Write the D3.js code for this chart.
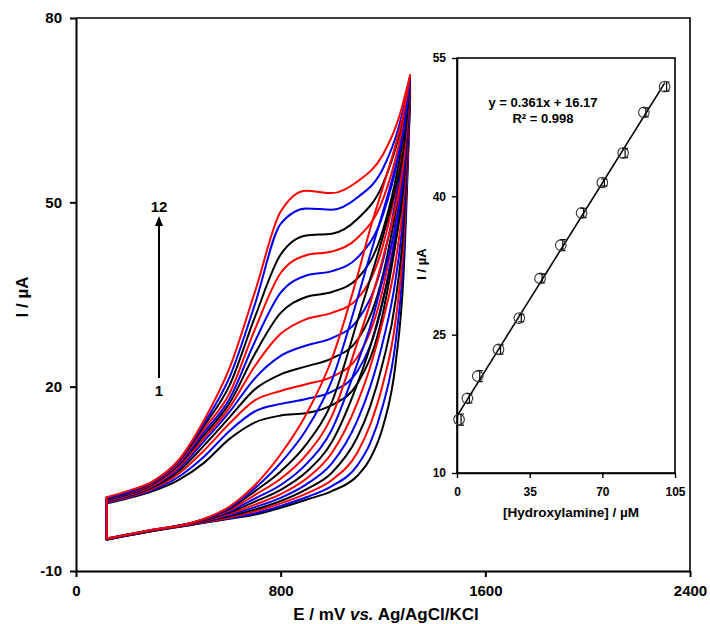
<!DOCTYPE html>
<html>
<head>
<meta charset="utf-8">
<script src="https://cdn.jsdelivr.net/npm/d3@7"></script>
<style>
  html, body { margin: 0; padding: 0; background: #fff; }
  svg { display: block; font-family: Arial, "Liberation Sans", sans-serif; font-weight: bold; }
</style>
</head>
<body>
<svg id="chart" width="710" height="624"></svg>
<script>
// ---- Cyclic voltammograms: potential grids (mV) ----
const potentialForward = [120, 200, 300, 400, 500, 600, 700, 800, 900, 1000, 1100, 1200, 1260, 1306];
const potentialReverse = [120, 300, 450, 600, 700, 800, 900, 1000, 1100, 1150, 1200, 1250, 1280, 1306];

// Anodic (forward) sweep currents, µA, curves 1..12
const forwardCurrents = [
  [1.0, 1.8, 3.0, 4.8, 7.6, 11.5, 14.2, 15.3, 15.7, 17.0, 20.5, 32.0, 47.0, 67.0],
  [1.1, 1.9, 3.2, 5.3, 8.6, 12.8, 16.0, 17.2, 18.0, 19.2, 22.5, 34.0, 48.5, 67.3],
  [1.2, 2.0, 3.4, 5.8, 9.6, 14.0, 17.8, 19.3, 20.4, 21.6, 24.8, 36.0, 50.0, 67.6],
  [1.3, 2.1, 3.6, 6.2, 10.4, 15.0, 19.6, 22.0, 23.3, 24.6, 27.6, 38.2, 51.5, 67.9],
  [1.4, 2.2, 3.8, 6.6, 11.1, 15.9, 21.4, 25.0, 26.7, 27.9, 30.8, 40.5, 53.0, 68.2],
  [1.5, 2.3, 3.9, 6.9, 11.6, 16.6, 23.4, 28.6, 31.0, 32.0, 34.3, 43.0, 54.5, 68.5],
  [1.6, 2.4, 4.1, 7.2, 12.1, 17.3, 25.4, 32.0, 34.6, 35.4, 37.6, 45.5, 56.0, 68.8],
  [1.7, 2.5, 4.2, 7.4, 12.6, 18.0, 27.4, 35.3, 38.1, 38.8, 41.0, 48.0, 57.5, 69.1],
  [1.8, 2.6, 4.3, 7.6, 13.1, 18.9, 29.4, 38.5, 41.4, 42.0, 44.2, 50.5, 59.0, 69.4],
  [1.85, 2.7, 4.4, 7.8, 13.6, 20.2, 31.4, 41.5, 44.6, 44.9, 47.3, 53.0, 60.5, 69.8],
  [1.9, 2.8, 4.5, 7.9, 14.0, 21.5, 33.5, 46.5, 49.0, 48.8, 50.8, 55.5, 62.0, 70.2],
  [2.0, 3.0, 4.6, 8.0, 14.5, 23.0, 35.5, 48.5, 51.9, 51.5, 53.4, 57.8, 63.5, 70.7]
];

// Cathodic (reverse) sweep currents, µA, curves 1..12 (listed by ascending potential)
const reverseCurrents = [
  [-4.9, -3.5, -2.5, -1.5, -0.8, 0.3, 1.6, 3.0, 5.5, 8.3, 13.5, 24.0, 38.0, 67.0],
  [-4.9, -3.5, -2.45, -1.4, -0.6, 0.6, 2.0, 3.8, 7.2, 10.8, 17.0, 27.5, 41.0, 67.3],
  [-4.85, -3.45, -2.4, -1.3, -0.3, 1.0, 2.6, 4.8, 9.3, 13.8, 20.5, 31.0, 43.5, 67.6],
  [-4.85, -3.45, -2.35, -1.1, 0.0, 1.4, 3.3, 6.0, 11.8, 16.8, 24.0, 34.3, 46.0, 67.9],
  [-4.8, -3.4, -2.3, -0.9, 0.4, 1.9, 4.1, 7.5, 14.5, 20.0, 27.4, 37.7, 48.5, 68.2],
  [-4.8, -3.4, -2.3, -0.7, 0.8, 2.5, 5.0, 9.2, 17.4, 23.2, 30.8, 40.6, 50.5, 68.5],
  [-4.8, -3.4, -2.25, -0.5, 1.3, 3.2, 6.1, 11.0, 20.5, 26.5, 34.2, 43.6, 52.5, 68.8],
  [-4.75, -3.35, -2.2, -0.3, 1.8, 4.0, 7.4, 13.0, 23.8, 29.8, 37.6, 46.5, 54.5, 69.1],
  [-4.75, -3.35, -2.2, -0.1, 2.4, 5.0, 8.9, 15.2, 27.2, 33.6, 41.0, 49.5, 56.5, 69.4],
  [-4.7, -3.3, -2.2, 0.1, 3.0, 6.2, 10.6, 17.5, 30.7, 37.5, 44.5, 52.5, 58.5, 69.8],
  [-4.7, -3.3, -2.2, 0.3, 3.5, 7.6, 13.0, 21.0, 34.3, 41.5, 48.5, 56.0, 61.5, 70.2],
  [-4.7, -3.3, -2.2, 0.5, 4.0, 9.0, 15.5, 24.5, 38.0, 45.7, 52.5, 59.5, 64.5, 70.7]
];

const curveColors = ["#000000", "#0000ee", "#ff0000"];   // repeats black, blue, red for curves 1..12

const xTickValues = [0, 800, 1600, 2400];
const yTickValues = [-10, 20, 50, 80];

// ---- Calibration inset ----
const concentrations = [1, 5, 10, 20, 30, 40, 50, 60, 70, 80, 90, 100];   // µM
const peakCurrents   = [15.8, 18.1, 20.5, 23.4, 26.8, 31.1, 34.7, 38.2, 41.5, 44.7, 49.1, 51.9]; // µA
const peakErrors     = [0.6, 0.5, 0.6, 0.5, 0.4, 0.5, 0.6, 0.5, 0.4, 0.5, 0.5, 0.5];
const fitSlope = 0.361, fitIntercept = 16.17, fitR2 = 0.998;
const insetXTicks = [0, 35, 70, 105];
const insetYTicks = [10, 25, 40, 55];

const svg = d3.select("#chart");
const plainFormat = d => String(d);

// ---------- main panel ----------
const x = d3.scaleLinear().domain([0, 2400]).range([76, 690]);
const y = d3.scaleLinear().domain([-10, 80]).range([571, 18]);

// frame (top and right)
svg.append("path")
  .attr("d", `M${x(0)},${y(80)}H${x(2400)}V${y(-10)}`)
  .attr("fill", "none").attr("stroke", "#000").attr("stroke-width", 1.6);

const lineGen = d3.line().x(d => x(d[0])).y(d => y(d[1])).curve(d3.curveMonotoneX);

const cvGroup = svg.append("g").attr("fill", "none").attr("stroke-width", 2)
  .attr("stroke-linecap", "round").attr("stroke-linejoin", "round");

forwardCurrents.forEach((fwd, i) => {
  const col = curveColors[i % 3];
  const rev = reverseCurrents[i];
  const g = cvGroup.append("g").attr("stroke", col);
  g.append("path").attr("d", lineGen(potentialForward.map((e, j) => [e, fwd[j]])));
  g.append("path").attr("d", lineGen(potentialReverse.map((e, j) => [e, rev[j]])));
  // switching edge at the starting potential
  g.append("path").attr("d", d3.line().x(d => x(d[0])).y(d => y(d[1]))([
    [potentialReverse[0], rev[0]], [potentialForward[0], fwd[0]]
  ]));
});

// axes
const xAxis = svg.append("g").attr("transform", `translate(0,${y(-10)})`)
  .call(d3.axisBottom(x).tickValues(xTickValues).tickSize(6).tickSizeOuter(0).tickPadding(8).tickFormat(plainFormat));
const yAxis = svg.append("g").attr("transform", `translate(${x(0)},0)`)
  .call(d3.axisLeft(y).tickValues(yTickValues).tickSize(6).tickSizeOuter(0).tickPadding(8).tickFormat(plainFormat));
[xAxis, yAxis].forEach(a => {
  a.select(".domain").attr("stroke", "#000").attr("stroke-width", 2);
  a.selectAll(".tick line").attr("stroke", "#000").attr("stroke-width", 2);
  a.selectAll(".tick text").attr("fill", "#000").style("font-size", "15px").style("font-weight", "bold")
    .style("font-family", "Arial, 'Liberation Sans', sans-serif");
});

// axis titles
const xTitle = svg.append("text").attr("x", 386).attr("y", 620).attr("text-anchor", "middle")
  .style("font-size", "17px").attr("fill", "#000");
xTitle.append("tspan").text("E / mV ");
xTitle.append("tspan").style("font-style", "italic").text("vs.");
xTitle.append("tspan").text(" Ag/AgCl/KCl");

svg.append("text").attr("transform", "translate(28,297) rotate(-90)").attr("text-anchor", "middle")
  .style("font-size", "17px").attr("fill", "#000").text("I / µA");

// curve-order arrow 1 → 12
svg.append("line").attr("x1", 159).attr("y1", 378).attr("x2", 159).attr("y2", 224)
  .attr("stroke", "#000").attr("stroke-width", 2);
svg.append("path").attr("d", "M159,216 L155,226 L163,226 Z").attr("fill", "#000");
svg.append("text").attr("x", 159).attr("y", 212).attr("text-anchor", "middle")
  .style("font-size", "15px").attr("fill", "#000").text("12");
svg.append("text").attr("x", 159).attr("y", 396).attr("text-anchor", "middle")
  .style("font-size", "15px").attr("fill", "#000").text("1");

// ---------- inset: peak current vs concentration ----------
const ix = d3.scaleLinear().domain([0, 105]).range([457, 675]);
const iy = d3.scaleLinear().domain([10, 55]).range([473, 58]);

svg.append("rect").attr("x", ix(0)).attr("y", iy(55)).attr("width", ix(105) - ix(0)).attr("height", iy(10) - iy(55))
  .attr("fill", "#fff").attr("stroke", "#000").attr("stroke-width", 1.6);

const ixAxis = svg.append("g").attr("transform", `translate(0,${iy(10)})`)
  .call(d3.axisBottom(ix).tickValues(insetXTicks).tickSize(5).tickSizeOuter(0).tickPadding(9).tickFormat(plainFormat));
const iyAxis = svg.append("g").attr("transform", `translate(${ix(0)},0)`)
  .call(d3.axisLeft(iy).tickValues(insetYTicks).tickSize(5).tickSizeOuter(0).tickPadding(6).tickFormat(plainFormat));
[ixAxis, iyAxis].forEach(a => {
  a.select(".domain").attr("stroke", "#000").attr("stroke-width", 1.6);
  a.selectAll(".tick line").attr("stroke", "#000").attr("stroke-width", 1.4);
  a.selectAll(".tick text").attr("fill", "#000").style("font-size", "12px").style("font-weight", "bold")
    .style("font-family", "Arial, 'Liberation Sans', sans-serif");
});

// regression line
svg.append("line")
  .attr("x1", ix(0)).attr("y1", iy(fitIntercept))
  .attr("x2", ix(100)).attr("y2", iy(fitSlope * 100 + fitIntercept))
  .attr("stroke", "#000").attr("stroke-width", 1.6);

// error bars and markers
const pts = svg.append("g");
concentrations.forEach((c, i) => {
  const cx = ix(c), v = peakCurrents[i], e = peakErrors[i];
  const bx = cx + 2;
  pts.append("path")
    .attr("d", `M${bx},${iy(v + e)}V${iy(v - e)}M${bx - 3},${iy(v + e)}H${bx + 3}M${bx - 3},${iy(v - e)}H${bx + 3}`)
    .attr("stroke", "#000").attr("stroke-width", 1.2).attr("fill", "none");
  pts.append("circle").attr("cx", cx).attr("cy", iy(v)).attr("r", 5.3)
    .attr("fill", "none").attr("stroke", "#333").attr("stroke-width", 1.1);
});

// equation
svg.append("text").attr("x", 543).attr("y", 107).attr("text-anchor", "middle")
  .style("font-size", "13px").attr("fill", "#000")
  .text(`y = ${fitSlope}x + ${fitIntercept}`);
svg.append("text").attr("x", 543).attr("y", 123).attr("text-anchor", "middle")
  .style("font-size", "13px").attr("fill", "#000")
  .text(`R² = ${fitR2}`);

// inset titles
svg.append("text").attr("x", 571).attr("y", 517).attr("text-anchor", "middle")
  .style("font-size", "13.5px").attr("fill", "#000").text("[Hydroxylamine] / µM");
svg.append("text").attr("transform", "translate(426,264) rotate(-90)").attr("text-anchor", "middle")
  .style("font-size", "13px").attr("fill", "#000").text("I / µA");
</script>
</body>
</html>
